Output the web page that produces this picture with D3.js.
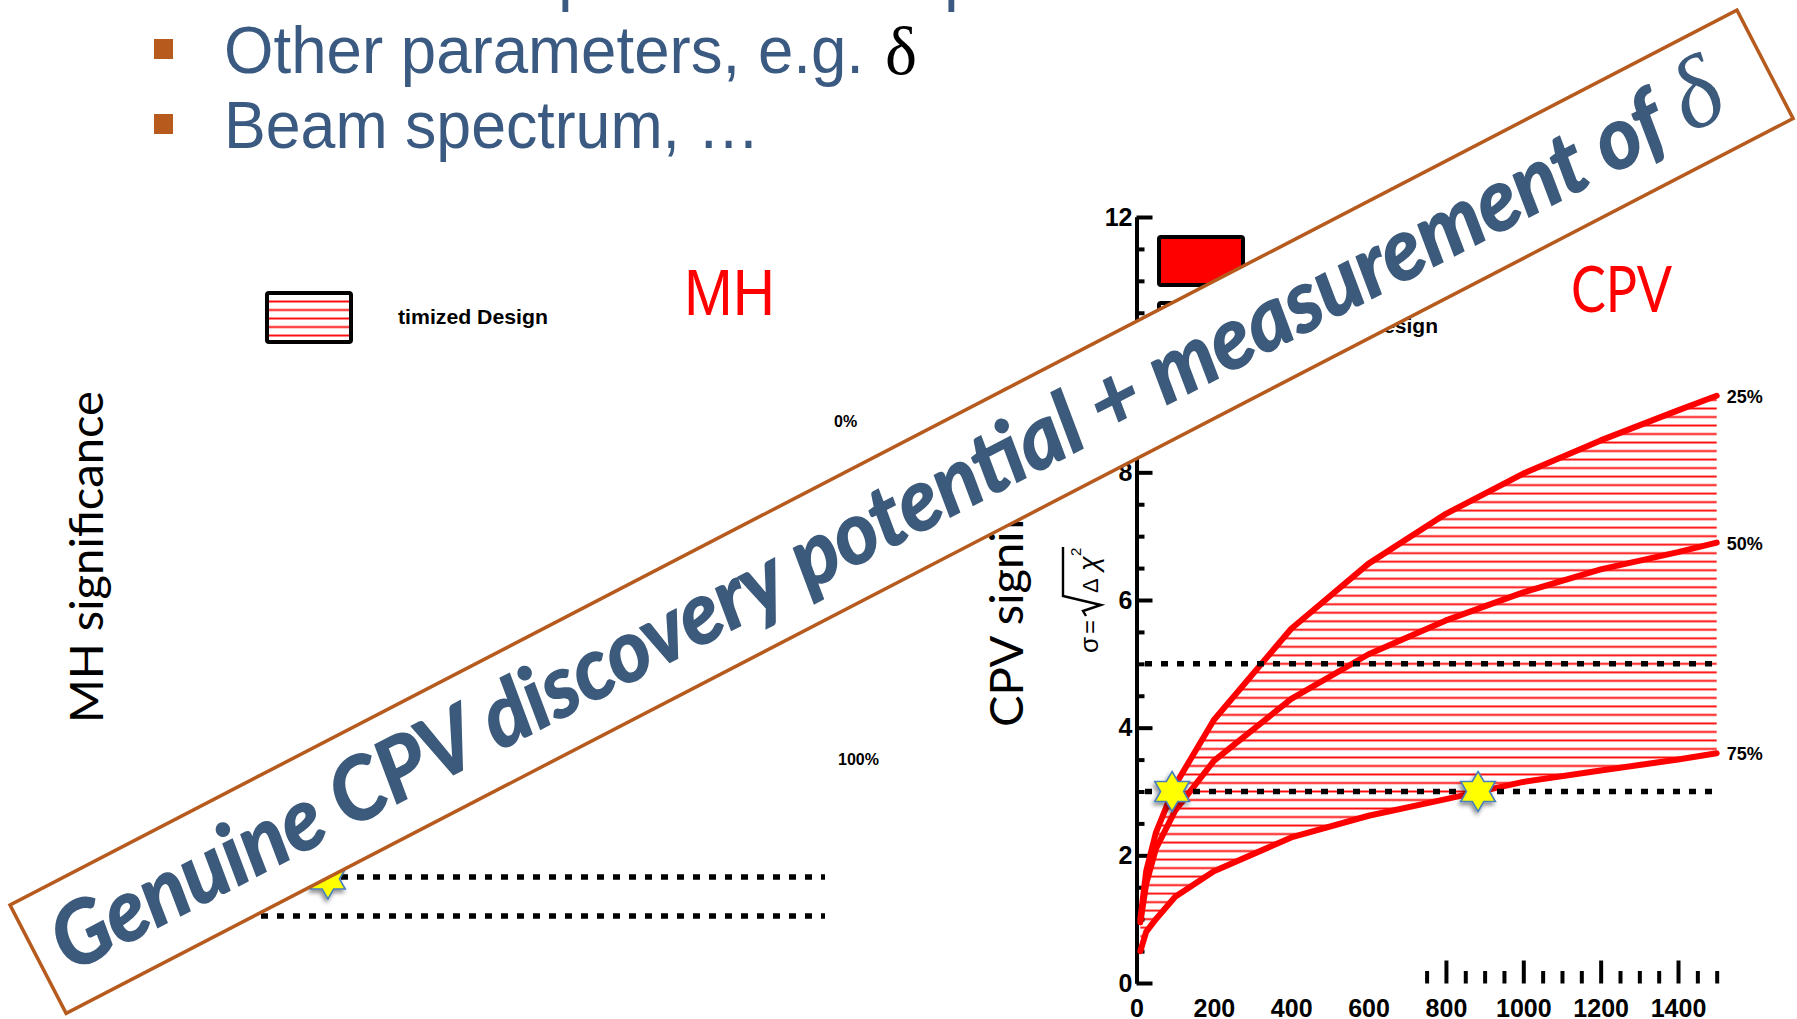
<!DOCTYPE html>
<html>
<head>
<meta charset="utf-8">
<script src="https://cdn.jsdelivr.net/npm/d3@7"></script>
<style>
  body { margin: 0; background: #fff; overflow: hidden; }
  svg text { font-family: "Liberation Sans", Arial, sans-serif; }
</style>
</head>
<body>
<div id="chart"></div>
<script>
var W = 1797, H = 1019;

// ---- data ----
var exposure = [10, 25, 50, 100, 200, 400, 600, 800, 1000, 1200, 1400, 1500];
var cpv25 = [1.0, 1.75, 2.35, 3.1, 4.12, 5.55, 6.57, 7.35, 7.98, 8.5, 8.97, 9.2];
var cpv50 = [0.95, 1.55, 2.1, 2.7, 3.48, 4.45, 5.15, 5.68, 6.12, 6.48, 6.75, 6.9];
var cpv75 = [0.5, 0.8, 1.0, 1.35, 1.75, 2.28, 2.62, 2.88, 3.15, 3.33, 3.5, 3.6];
var curveNames = ["25%", "50%", "75%"];
var sigmaLevels = [5, 3];
var starExposure = [92, 883];
var starSigma = [3, 3];
var xLabelTicks = [0, 200, 400, 600, 800, 1000, 1200, 1400];
var xMajorBars = [800, 1000, 1200, 1400];
var xMinorBars = [750, 850, 900, 950, 1050, 1100, 1150, 1250, 1300, 1350, 1450, 1500];
var yMajorTicks = [0, 2, 4, 6, 8, 10, 12];
var yMinorTicks = [0.5, 1, 1.5, 2.5, 3, 3.5, 4.5, 5, 5.5, 6.5, 7, 7.5, 8.5, 9, 9.5, 10.5, 11, 11.5];
var mhSigmaLevels = [5, 3];
var mhStarPoint = [178, 5];
var mhPercentLabels = ["0%", "100%"];
var bulletLines = ["Other parameters, e.g.", "Beam spectrum, \u2026"];
var legendLabels = ["CDR Reference Design", "Optimized Design"];
var bannerText = "Genuine CPV discovery potential + measurement of";

var blueText = "#3b5a82", orange = "#b65a1e", bannerBlue = "#3c5a7b";

var svg = d3.select("#chart").append("svg")
    .attr("width", W).attr("height", H);
var defs = svg.append("defs");

// drop shadow for the stars
var shadow = defs.append("filter").attr("id", "starShadow")
    .attr("x", "-50%").attr("y", "-50%").attr("width", "200%").attr("height", "200%");
shadow.append("feDropShadow").attr("dx", -1.5).attr("dy", 3).attr("stdDeviation", 2)
    .attr("flood-color", "#000").attr("flood-opacity", 0.45);

// scales of the CPV panel
var x = d3.scaleLinear().domain([0, 1500]).range([1136.5, 1716.7]);
var y = d3.scaleLinear().domain([0, 12]).range([983, 217]);
// hatch spacing in sigma units, aligned on the 3 sigma line
var hatchStep = y(0) - y(2 / 15);

function hatchPattern(id, offsetY) {
  var p = defs.append("pattern").attr("id", id)
      .attr("patternUnits", "userSpaceOnUse")
      .attr("width", 20).attr("height", hatchStep)
      .attr("y", offsetY - hatchStep / 2);
  p.append("rect").attr("width", 20).attr("height", hatchStep).attr("fill", "#fff");
  p.append("line").attr("x1", 0).attr("x2", 20)
      .attr("y1", hatchStep / 2).attr("y2", hatchStep / 2)
      .attr("stroke", "#ff0a0a").attr("stroke-width", 1.9);
}
hatchPattern("hatch", y(3));
hatchPattern("hatchLegendMH", 301.5);
hatchPattern("hatchLegendCPV", 311.5);

// ---- bullet text at the top ----
var header = svg.append("g");
header.append("text").attr("y", -2).attr("font-size", 66).attr("fill", blueText)
  .selectAll("tspan").data([558, 944]).join("tspan")
  .attr("x", function (d) { return d; }).text("p");

var bulletY = [73, 148];
bulletLines.forEach(function (t, i) {
  header.append("rect").attr("x", 154).attr("y", bulletY[i] - 34)
      .attr("width", 19).attr("height", 20).attr("fill", orange);
  header.append("text").attr("x", 224).attr("y", bulletY[i])
      .attr("font-size", 66).attr("fill", blueText)
      .attr("textLength", i === 0 ? 640 : 536).attr("lengthAdjust", "spacingAndGlyphs")
      .text(t);
});
header.append("text").attr("x", 885).attr("y", 74)
    .attr("font-size", 68).attr("fill", "#000")
    .style("font-family", "'Liberation Serif', 'Times New Roman', serif")
    .text("\u03b4");

// ---- MH panel (mostly hidden) ----
var mh = svg.append("g");
var mhX = d3.scaleLinear().domain([0, 1500]).range([261, 825]);
var mhY = d3.scaleLinear().domain([3, 5]).range([916, 877]);

mh.append("rect").attr("x", 267).attr("y", 293).attr("width", 84).attr("height", 49)
    .attr("fill", "url(#hatchLegendMH)").attr("stroke", "#000").attr("stroke-width", 4).attr("rx", 2);
mh.append("text").attr("x", 398).attr("y", 324).attr("font-size", 21).attr("font-weight", "bold")
    .attr("textLength", 150).attr("lengthAdjust", "spacingAndGlyphs")
    .text("timized Design");
mh.append("text").attr("x", 684).attr("y", 315).attr("font-size", 64).attr("fill", "#ff0000")
    .attr("textLength", 91).attr("lengthAdjust", "spacingAndGlyphs").text("MH");
mh.append("text").attr("transform", "translate(103,723) rotate(-90)")
    .style("font-family", "Lato, 'Open Sans', sans-serif").attr("font-size", 46)
    .attr("textLength", 332).attr("lengthAdjust", "spacingAndGlyphs")
    .text("MH significance");
mh.selectAll("text.pct").data(mhPercentLabels).join("text").attr("class", "pct")
    .attr("x", function (d, i) { return i === 0 ? 834 : 838; })
    .attr("y", function (d, i) { return i === 0 ? 427 : 765; })
    .attr("font-size", 16).attr("font-weight", "bold").text(function (d) { return d; });
mh.selectAll("line.sig").data(mhSigmaLevels).join("line").attr("class", "sig")
    .attr("x1", mhX(0)).attr("x2", mhX(1500))
    .attr("y1", function (d) { return mhY(d); }).attr("y2", function (d) { return mhY(d); })
    .attr("stroke", "#000").attr("stroke-width", 5.5).attr("stroke-dasharray", "7 9");

// six pointed star
function starPath(R) {
  var pts = d3.range(12).map(function (i) {
    var a = (-90 + i * 30) * Math.PI / 180;
    var r = i % 2 === 0 ? R : R / Math.sqrt(3);
    return [r * Math.cos(a), r * Math.sin(a)];
  });
  return "M" + pts.join("L") + "Z";
}
function drawStar(g, px, py) {
  g.append("path").attr("d", starPath(20))
      .attr("transform", "translate(" + px + "," + py + ")")
      .attr("fill", "#ffff00").attr("stroke", "#4a7ebb").attr("stroke-width", 1.6)
      .attr("filter", "url(#starShadow)");
}
drawStar(mh, mhX(mhStarPoint[0]), mhY(mhStarPoint[1]) + 2);

// ---- CPV panel ----
var cpv = svg.append("g");
var rows = exposure.map(function (e, i) {
  return { x: e, v25: cpv25[i], v50: cpv50[i], v75: cpv75[i] };
});

// legend
cpv.append("rect").attr("x", 1159).attr("y", 237).attr("width", 84).attr("height", 48)
    .attr("fill", "#ff0000").attr("stroke", "#000").attr("stroke-width", 4).attr("rx", 2);
cpv.append("rect").attr("x", 1159).attr("y", 303).attr("width", 84).attr("height", 48)
    .attr("fill", "url(#hatchLegendCPV)").attr("stroke", "#000").attr("stroke-width", 4).attr("rx", 2);
cpv.append("text").attr("x", 1262).attr("y", 268).attr("font-size", 21).attr("font-weight", "bold")
    .text(legendLabels[0]);
cpv.append("text").attr("x", 1438).attr("y", 333).attr("font-size", 21).attr("font-weight", "bold")
    .attr("text-anchor", "end").text(legendLabels[1]);
cpv.append("text").attr("x", 1571).attr("y", 312).attr("font-size", 64).attr("fill", "#ff0000")
    .style("font-family", "Lato, 'Open Sans', sans-serif")
    .attr("textLength", 101).attr("lengthAdjust", "spacingAndGlyphs").text("CPV");

// axis titles
cpv.append("text").attr("transform", "translate(1023,727) rotate(-90)")
    .style("font-family", "Lato, 'Open Sans', sans-serif").attr("font-size", 46)
    .attr("textLength", 342).attr("lengthAdjust", "spacingAndGlyphs")
    .text("CPV significance");

var sig = cpv.append("g").attr("transform", "translate(1098,653) rotate(-90)")
    .style("font-family", "'Liberation Serif', 'Times New Roman', serif");
sig.append("text").attr("x", 0).attr("y", 0).attr("font-size", 26).text("\u03c3");
sig.append("text").attr("x", 19).attr("y", 0).attr("font-size", 24).text("=");
sig.append("path").attr("d", "M37,-12L42,-15L48,3L57,-35L106,-35")
    .attr("fill", "none").attr("stroke", "#000").attr("stroke-width", 2.4);
sig.append("text").attr("x", 60).attr("y", 0).attr("font-size", 22).text("\u0394");
sig.append("text").attr("x", 82).attr("y", 0).attr("font-size", 27).attr("font-style", "italic").text("\u03c7");
sig.append("text").attr("x", 97).attr("y", -17).attr("font-size", 15).text("2");

// hatched band between 75% and 25%
var band = d3.area()
    .x(function (d) { return x(d.x); })
    .y0(function (d) { return y(d.v75); })
    .y1(function (d) { return y(d.v25); });
cpv.append("path").datum(rows).attr("d", band).attr("fill", "url(#hatch)");

// axes
function styleAxis(g) {
  g.selectAll("line").attr("stroke", "#000").attr("stroke-width", 4);
  g.selectAll("path.domain").attr("stroke", "#000").attr("stroke-width", 4);
  g.selectAll("text").attr("font-size", 25).attr("font-weight", "bold")
      .attr("fill", "#000").style("font-family", "'Liberation Sans', Arial, sans-serif");
}
cpv.append("g").attr("transform", "translate(" + x(0) + ",0)")
    .call(d3.axisLeft(y).tickValues(yMinorTicks).tickSize(-8).tickFormat("").tickSizeOuter(0))
    .call(styleAxis);
cpv.append("g").attr("transform", "translate(" + x(0) + ",0)")
    .call(d3.axisLeft(y).tickValues(yMajorTicks).tickSize(-16).tickPadding(4).tickSizeOuter(0)
      .tickFormat(d3.format("d")))
    .call(styleAxis);

// x axis: labels and the partial tick comb
cpv.append("g").attr("transform", "translate(0," + y(0) + ")")
    .call(d3.axisBottom(x).tickValues(xLabelTicks).tickSize(0).tickPadding(16)
      .tickFormat(d3.format("d")))
    .call(styleAxis)
    .call(function (g) { g.select(".domain").remove(); });
cpv.append("g").attr("transform", "translate(0," + (y(0) + 0.5) + ")")
    .call(d3.axisTop(x).tickValues(xMajorBars).tickSize(23).tickFormat(""))
    .call(styleAxis)
    .call(function (g) { g.select(".domain").remove(); });
cpv.append("g").attr("transform", "translate(0," + (y(0) + 0.5) + ")")
    .call(d3.axisTop(x).tickValues(xMinorBars).tickSize(12.5).tickFormat(""))
    .call(styleAxis)
    .call(function (g) { g.select(".domain").remove(); });

// curves
var keys = ["v25", "v50", "v75"];
keys.forEach(function (k, i) {
  var line = d3.line()
      .x(function (d) { return x(d.x); })
      .y(function (d) { return y(d[k]); });
  cpv.append("path").datum(rows).attr("d", line)
      .attr("fill", "none").attr("stroke", "#ff0000").attr("stroke-width", 6)
      .attr("stroke-linejoin", "round").attr("stroke-linecap", "round");
  var last = rows[rows.length - 1];
  cpv.append("text").attr("x", x(last.x) + 10).attr("y", y(last[k]) + 7)
      .attr("font-size", 18).attr("font-weight", "bold").text(curveNames[i]);
});

// 3 and 5 sigma lines
cpv.selectAll("line.sig").data(sigmaLevels).join("line").attr("class", "sig")
    .attr("x1", x(22)).attr("x2", x(1500))
    .attr("y1", function (d) { return y(d); }).attr("y2", function (d) { return y(d); })
    .attr("stroke", "#000").attr("stroke-width", 5.5).attr("stroke-dasharray", "7 9");

starExposure.forEach(function (e, i) { drawStar(cpv, x(e), y(starSigma[i])); });

// ---- rotated banner on top ----
var banner = svg.append("g").attr("transform", "translate(10,905) rotate(-27.39)");
banner.append("rect").attr("width", 1945).attr("height", 122)
    .attr("fill", "#fff").attr("stroke", orange).attr("stroke-width", 3.5);
banner.append("text").attr("x", 22).attr("y", 88)
    .style("font-family", "Lato, 'Open Sans', sans-serif")
    .attr("font-size", 86).attr("font-weight", "bold").attr("font-style", "italic")
    .attr("fill", bannerBlue).attr("stroke", bannerBlue).attr("stroke-width", 1.6)
    .attr("textLength", 1806).attr("lengthAdjust", "spacingAndGlyphs")
    .text(bannerText);
banner.append("text").attr("x", 1846).attr("y", 88)
    .style("font-family", "'Liberation Serif', 'Times New Roman', serif")
    .attr("font-size", 100).attr("font-style", "italic").attr("fill", bannerBlue)
    .text("\u03b4");
</script>
</body>
</html>
